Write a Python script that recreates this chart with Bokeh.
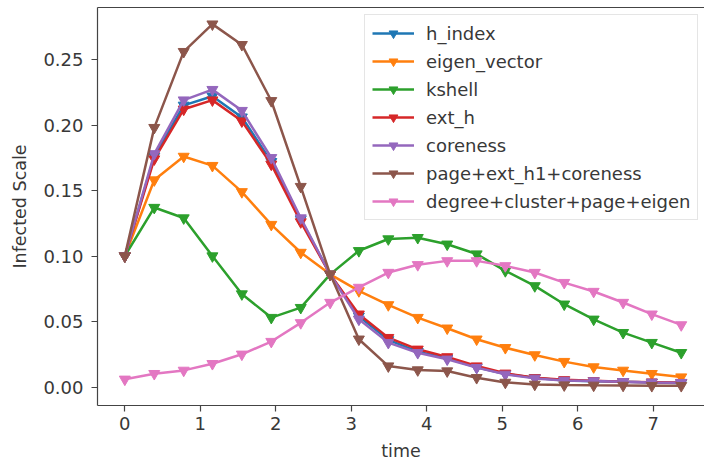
from bokeh.plotting import figure
from bokeh.models import Range1d, LinearAxis, FixedTicker, Legend, LegendItem, NumeralTickFormatter
from bokeh.embed import file_html
from bokeh.resources import INLINE

# ---- data ----
time = [0.0, 0.39, 0.78, 1.16, 1.55, 1.94, 2.33, 2.72, 3.10, 3.49,
        3.88, 4.27, 4.66, 5.04, 5.43, 5.82, 6.21, 6.60, 6.98, 7.37]

h_index = [0.100, 0.176, 0.215, 0.222, 0.206, 0.172, 0.128, 0.086, 0.054, 0.036,
           0.027, 0.022, 0.015, 0.010, 0.007, 0.005, 0.0045, 0.004, 0.0035, 0.003]
eigen_vector = [0.100, 0.158, 0.176, 0.169, 0.149, 0.124, 0.1027, 0.086, 0.0734, 0.0627,
                0.053, 0.0449, 0.0365, 0.030, 0.0245, 0.0194, 0.0153, 0.0127, 0.0102, 0.0076]
kshell = [0.100, 0.137, 0.129, 0.100, 0.071, 0.053, 0.0606, 0.086, 0.104, 0.113,
          0.114, 0.109, 0.1015, 0.0887, 0.0772, 0.0632, 0.0517, 0.0415, 0.0339, 0.0262]
ext_h = [0.100, 0.174, 0.212, 0.219, 0.203, 0.170, 0.126, 0.086, 0.0556, 0.0377,
         0.0288, 0.023, 0.016, 0.0105, 0.007, 0.0055, 0.0048, 0.004, 0.0037, 0.0034]
coreness = [0.100, 0.178, 0.219, 0.227, 0.211, 0.175, 0.129, 0.086, 0.0517, 0.0339,
            0.0262, 0.0212, 0.0148, 0.0097, 0.0066, 0.005, 0.0046, 0.004, 0.0035, 0.0033]
page_ext_h1_coreness = [0.100, 0.198, 0.256, 0.277, 0.2613, 0.2185, 0.153, 0.086, 0.0365, 0.016,
                        0.013, 0.0122, 0.0071, 0.0035, 0.002, 0.0015, 0.0013, 0.0012, 0.001, 0.001]
degree_cluster_page_eigen = [0.0059, 0.0102, 0.0127, 0.0178, 0.025, 0.0347, 0.049, 0.0645, 0.076, 0.0874,
                             0.0933, 0.0963, 0.0963, 0.0925, 0.0874, 0.0797, 0.0729, 0.0645, 0.0556, 0.0474]

series_names = ["h_index", "eigen_vector", "kshell", "ext_h", "coreness",
                "page+ext_h1+coreness", "degree+cluster+page+eigen"]
series_values = [h_index, eigen_vector, kshell, ext_h, coreness,
                 page_ext_h1_coreness, degree_cluster_page_eigen]
series_colors = ["#1f77b4", "#ff7f0e", "#2ca02c", "#d62728", "#9467bd", "#8c564b", "#e377c2"]

x_ticks = [0, 1, 2, 3, 4, 5, 6, 7]
y_ticks = [0.0, 0.05, 0.10, 0.15, 0.20, 0.25]

FONT = "DejaVu Sans"
TXT = "#383838"
AX = "#444444"

p = figure(width=704, height=466, output_backend="svg", toolbar_location=None,
           x_range=Range1d(-0.362, 7.678), y_range=Range1d(-0.0141, 0.2897),
           min_border_left=97, min_border_right=0, min_border_top=7, min_border_bottom=61,
           x_axis_label="time", y_axis_label="Infected Scale")
p.outline_line_color = None
p.grid.visible = False
p.background_fill_color = "white"
p.border_fill_color = "white"

for ax in (p.xaxis[0], p.yaxis[0]):
    ax.axis_line_color = AX
    ax.axis_line_width = 1.2
    ax.major_tick_line_color = AX
    ax.major_tick_line_width = 1.2
    ax.major_tick_out = 6
    ax.major_tick_in = 0
    ax.minor_tick_line_color = None
    ax.major_label_text_font = FONT
    ax.major_label_text_font_size = "18px"
    ax.major_label_text_color = TXT
    ax.axis_label_text_font = FONT
    ax.axis_label_text_font_size = "17.5px"
    ax.axis_label_text_font_style = "normal"
    ax.axis_label_text_color = TXT

p.xaxis[0].ticker = FixedTicker(ticks=x_ticks)
p.xaxis[0].major_label_standoff = 5
p.xaxis[0].axis_label_standoff = 8
p.yaxis[0].ticker = FixedTicker(ticks=y_ticks)
p.yaxis[0].formatter = NumeralTickFormatter(format="0.00")
p.yaxis[0].major_label_standoff = 8
p.yaxis[0].axis_label_standoff = 10

top = LinearAxis(ticker=FixedTicker(ticks=[]), axis_line_color=AX, axis_line_width=1.2,
                 major_tick_line_color=None, minor_tick_line_color=None,
                 major_label_text_font_size="0px")
p.add_layout(top, "above")

items = []
for name, vals, col in zip(series_names, series_values, series_colors):
    l = p.line(time, vals, line_color=col, line_width=2.5)
    s = p.scatter(time, vals, marker="inverted_triangle", size=11,
                  fill_color=col, line_color=col)
    items.append(LegendItem(label=name, renderers=[l, s]))

legend = Legend(items=items, location=(267, 185), padding=7, spacing=6,
                glyph_height=22, label_height=22, glyph_width=42, label_standoff=12,
                margin=0, border_line_color="#cccccc", border_line_width=1,
                background_fill_alpha=0.8, label_text_font=FONT,
                label_text_font_size="18px", label_text_color=TXT)
p.add_layout(legend)

open("out.html", "w").write(file_html(p, INLINE))
